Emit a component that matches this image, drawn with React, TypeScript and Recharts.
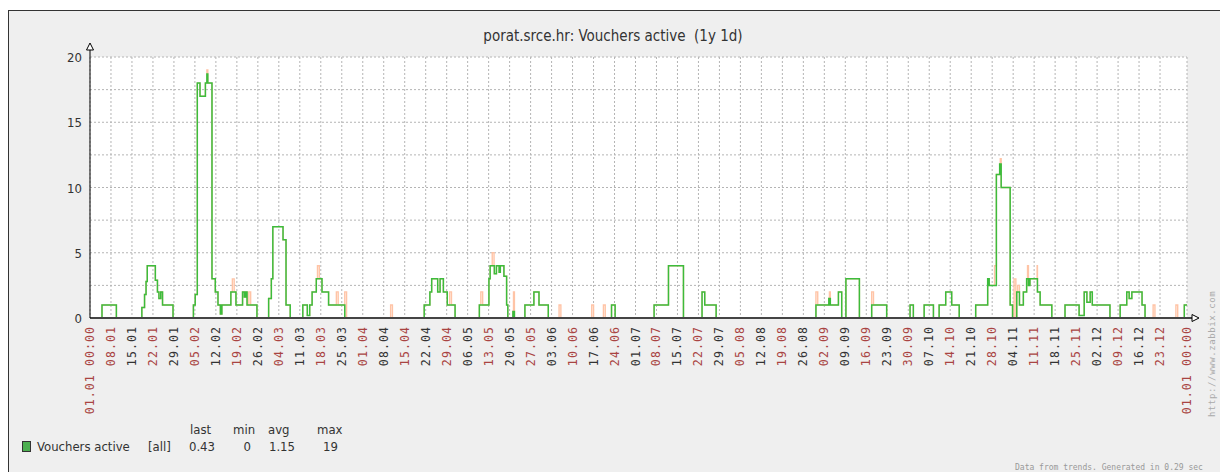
import React from "react";
import { ComposedChart, Line, XAxis, YAxis, CartesianGrid } from "recharts";

// day of year (leap year, 01.01 = 0) -> avg vouchers, drawn as steps
const avgSteps: [number, number][] = [
  [0, 0],
  [4.0, 1], [8.8, 0],
  [17.3, 0.8], [18.2, 1.8], [18.7, 2.8], [19.1, 4], [21.8, 2.9], [22.5, 2], [23.0, 1.5], [23.6, 2], [24.2, 1], [27.7, 0],
  [34.5, 1], [35.1, 1.8], [35.8, 18], [36.7, 17], [38.5, 18], [39.0, 18.7], [39.3, 18], [40.7, 3], [41.8, 2], [42.7, 1], [43.5, 0.3], [44.0, 1],
  [47.0, 2], [48.7, 1], [50.9, 2], [51.5, 1.6], [52.0, 2], [52.4, 1], [55.7, 0],
  [59.6, 1.5], [60.5, 3], [61.0, 7], [64.4, 6], [65.4, 1], [66.8, 0],
  [71.0, 1], [72.5, 0.2], [73.3, 1], [74.1, 2], [75.5, 3], [77.4, 2], [79.6, 1], [85.0, 0],
  [111.5, 1], [113.4, 2], [114.0, 3], [116.0, 2], [116.8, 3], [117.9, 2], [119.2, 1], [121.8, 0],
  [129.9, 1], [133.1, 3], [133.5, 4], [134.9, 3.4], [135.6, 4], [136.5, 3.5], [136.9, 4], [138.1, 3.2], [139.0, 1], [139.4, 0], [141.1, 0.5], [141.6, 0],
  [145.1, 1], [148.1, 2], [149.8, 1], [152.9, 0],
  [174.0, 1], [175.2, 0],
  [188.2, 1], [193.0, 4], [198.0, 0],
  [204.2, 2], [205.1, 1], [208.9, 0],
  [242.2, 1], [246.5, 1.5], [247.0, 1], [249.7, 2], [250.8, 0], [252.2, 3], [256.7, 0],
  [260.8, 1], [265.8, 0], [273.6, 1], [274.7, 0], [278.3, 1], [281.4, 0], [283.3, 1], [285.5, 2], [287.5, 1], [290.0, 0],
  [295.5, 1], [299.5, 3], [300.0, 2.5], [302.4, 11], [303.5, 11.8], [304.0, 10], [307.0, 1], [307.8, 0],
  [309.2, 2], [310.1, 1], [311.4, 2], [312.5, 3], [313.1, 2.5], [313.6, 3], [316.1, 2], [317.0, 1], [320.9, 0],
  [325.3, 1], [330.0, 0.2], [331.7, 2], [332.6, 1.2], [333.7, 2], [334.4, 1], [340.3, 0],
  [343.7, 1], [345.9, 2], [346.7, 1.5], [347.6, 2], [351.0, 1], [352.0, 0],
  [365.1, 1], [366, 1],
];

// short max peaks (orange) above the avg line
const maxSpikes: [number, number][] = [
  [39.0, 19], [47.5, 3], [53.0, 2], [75.9, 4], [82.2, 2], [85.0, 2], [100.3, 1],
  [120.0, 2], [130.4, 2], [134.2, 5], [141.3, 2], [156.5, 1], [167.4, 1], [171.3, 1],
  [242.2, 2], [246.7, 2], [260.8, 2], [274.5, 1], [301.8, 4], [303.7, 12.2], [308.3, 3],
  [309.5, 2.5], [312.8, 4], [316.0, 4], [354.7, 1], [362.3, 1],
];

const tickLabels = [
  "01.01 00:00", "08.01", "15.01", "22.01", "29.01", "05.02", "12.02", "19.02", "26.02",
  "04.03", "11.03", "18.03", "25.03", "01.04", "08.04", "15.04", "22.04", "29.04",
  "06.05", "13.05", "20.05", "27.05", "03.06", "10.06", "17.06", "24.06", "01.07",
  "08.07", "15.07", "22.07", "29.07", "05.08", "12.08", "19.08", "26.08", "02.09",
  "09.09", "16.09", "23.09", "30.09", "07.10", "14.10", "21.10", "28.10", "04.11",
  "11.11", "18.11", "25.11", "02.12", "09.12", "16.12", "23.12", "01.01 00:00",
];
const tickDays = tickLabels.map((_, i) => (i === tickLabels.length - 1 ? 366 : i * 7));
const yTicks = [0, 2.5, 5, 7.5, 10, 12.5, 15, 17.5, 20];

const legendStats = { last: "0.43", min: "0", avg: "1.15", max: "19" };

const avgData = avgSteps.map(([d, v]) => ({ d, v }));

const avgAt = (day: number) => {
  let v = 0;
  for (const [d, val] of avgSteps) if (d <= day) v = val;
  return v;
};
const maxData = [
  ...avgData,
  ...maxSpikes.flatMap(([d, m]) => [
    { d, v: m },
    { d: d + 0.6, v: avgAt(d + 0.6) },
  ]),
].sort((a, b) => a.d - b.d);

const COND = "'DejaVu Sans Condensed', 'DejaVu Sans', sans-serif";
const MONO = "'DejaVu Sans Mono', monospace";

const YTick = ({ x, y, payload }: any) =>
  payload.value % 5 === 0 ? (
    <text x={x} y={y} dy={5} textAnchor="end" fontSize={13} fill="#333" fontFamily={COND} style={{ fontStretch: "condensed" }}>
      {payload.value}
    </text>
  ) : (
    <g />
  );

const XTick = ({ x, y, payload }: any) => {
  const i = tickDays.indexOf(payload.value);
  const red = i % 2 === 1 || i === 0 || i === tickLabels.length - 1;
  return (
    <text
      x={x}
      y={y}
      dy={4}
      transform={`rotate(-90 ${x} ${y})`}
      textAnchor="end"
      fontSize={11.5}
      letterSpacing={1.1}
      fontFamily={MONO}
      fill={red ? "#a94442" : "#333"}
    >
      {tickLabels[i] ?? ""}
    </text>
  );
};

export default function App() {
  return (
    <div style={{ position: "absolute", left: 0, top: 0, width: 1220, height: 472, background: "#fff", overflow: "hidden" }}>
      <div style={{ position: "absolute", left: 8, top: 10, width: 1230, height: 480, background: "#efefef", border: "1px solid #333", boxSizing: "border-box" }} />
      <div style={{ position: "absolute", left: 0, top: 0 }}>
        <ComposedChart width={1220} height={472} margin={{ top: 57, right: 33, bottom: 44, left: 30 }}>
          <CartesianGrid fill="#fff" stroke="#b4b4b4" strokeDasharray="2 2" />
          <XAxis
            dataKey="d"
            type="number"
            domain={[0, 366]}
            ticks={tickDays}
            interval={0}
            height={110}
            tickSize={0}
            tickMargin={8}
            tick={<XTick />}
            axisLine={{ stroke: "#444", strokeWidth: 2 }}
          />
          <YAxis
            type="number"
            domain={[0, 20]}
            ticks={yTicks}
            interval={0}
            width={60}
            tickSize={0}
            tickMargin={8}
            tick={<YTick />}
            axisLine={{ stroke: "#000" }}
          />
          <Line data={maxData} dataKey="v" type="stepAfter" stroke="#ffc4a6" strokeWidth={1.4} dot={false} isAnimationActive={false} />
          <Line data={avgData} dataKey="v" type="stepAfter" stroke="#3cbc3c" strokeWidth={1.5} dot={false} isAnimationActive={false} />
        </ComposedChart>
      </div>
      <svg width={1220} height={472} style={{ position: "absolute", left: 0, top: 0, pointerEvents: "none" }}>
        <line x1={90} y1={57} x2={90} y2={46} stroke="#000" />
        <path d="M86.5,50 L90,43 L93.5,50 Z" fill="#fff" stroke="#000" />
        <line x1={1187} y1={318} x2={1194} y2={318} stroke="#444" strokeWidth={2} />
        <path d="M1192,314.5 L1199,318 L1192,321.5 Z" fill="#fff" stroke="#000" />
        <text x={613} y={41} textAnchor="middle" fontSize={15} fill="#333" fontFamily={COND} style={{ fontStretch: "condensed" }}>
          porat.srce.hr: Vouchers active{"\u00a0\u00a0"}(1y 1d)
        </text>
        <g fontFamily={COND} fontSize={13} fill="#333" style={{ fontStretch: "condensed" }}>
          <text x={190} y={434}>last</text>
          <text x={233} y={434}>min</text>
          <text x={268} y={434}>avg</text>
          <text x={317} y={434}>max</text>
          <rect x={22.5} y={441.5} width={8} height={10} fill="#4caf50" stroke="#333" />
          <text x={37} y={451}>Vouchers active</text>
          <text x={148} y={451}>[all]</text>
          <text x={215} y={451} textAnchor="end">{legendStats.last}</text>
          <text x={251} y={451} textAnchor="end">{legendStats.min}</text>
          <text x={295} y={451} textAnchor="end">{legendStats.avg}</text>
          <text x={338} y={451} textAnchor="end">{legendStats.max}</text>
        </g>
        <text x={1212} y={417} dy={3} transform="rotate(-90 1212 417)" fontSize={9} letterSpacing={0.6} fontFamily={MONO} fill="#aaa">
          http://www.zabbix.com
        </text>
        <text x={1015} y={470} fontSize={8} fontFamily={MONO} fill="#999">
          Data from trends. Generated in 0.29 sec
        </text>
      </svg>
    </div>
  );
}
